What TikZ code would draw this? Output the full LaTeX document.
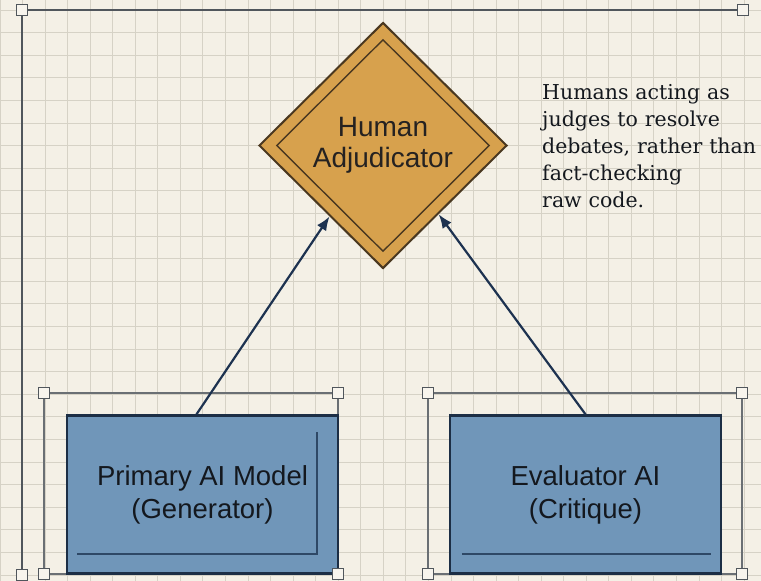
\documentclass[tikz,border=0pt]{standalone}
\usepackage{fontspec}
\setmainfont{DejaVu Serif}
\setsansfont{Liberation Sans}
\usetikzlibrary{shapes.geometric,arrows.meta,calc}

\definecolor{paper}{HTML}{F4F0E6}
\definecolor{gridc}{HTML}{D6D2C6}
\definecolor{framec}{HTML}{50565C}
\definecolor{gold}{HTML}{D7A14D}
\definecolor{goldedge}{HTML}{4A3820}
\definecolor{steel}{HTML}{7096B9}
\definecolor{steeledge}{HTML}{1C2E45}
\definecolor{steelline}{HTML}{2E4866}
\definecolor{navy}{HTML}{1D3250}
\definecolor{ink}{HTML}{14181E}

\tikzset{
  gridline/.style={draw=gridc, line width=0.9pt},
  frameline/.style={draw=framec, line width=1.8pt},
  subframe/.style={draw=framec!85, line width=1.4pt},
  handle/.style={draw=framec, fill=paper!70!white, line width=1.3pt,
    minimum size=10.5pt, inner sep=0pt, rectangle},
  agentbox/.style={rectangle, draw=steeledge, fill=steel, line width=2.4pt,
    minimum width=271pt, minimum height=158pt, align=center, text=ink,
    font=\sffamily\fontsize{27.5}{33}\selectfont},
  accent/.style={draw=steelline, line width=2pt},
  judge/.style={diamond, aspect=1, draw=goldedge, fill=gold, line width=2pt,
    minimum width=248pt, minimum height=246pt, inner sep=0pt, align=center,
    text=ink!90!brown, font=\sffamily\fontsize{28}{31}\selectfont},
  judgeinner/.style={diamond, aspect=1, draw=goldedge, line width=1.4pt,
    minimum width=213pt, minimum height=212pt, inner sep=0pt},
  arr/.style={draw=navy, line width=2.2pt, -{Latex[length=14pt,width=11pt]}},
  note/.style={anchor=north west, align=left, text=ink, inner sep=0pt,
    font=\fontsize{20.5}{27}\selectfont, text width=218pt},
}

\begin{document}
\begin{tikzpicture}[x=1pt,y=-1pt]
  % paper and grid
  \fill[paper] (0,0) rectangle (761,581);
  \useasboundingbox (0,0) rectangle (761,581);
  \foreach \k in {-1,...,33}
    \draw[gridline] ({22.5+22.55*\k},0) -- ({22.5+22.55*\k},581);
  \foreach \k in {0,...,25}
    \draw[gridline] (0,{10+22.6*\k}) -- (761,{10+22.6*\k});

  % outer selection frame (left and top sides only)
  \coordinate (fTL) at (22,10);
  \coordinate (fTR) at (743,10);
  \coordinate (fBL) at (22,575);
  \draw[frameline] (fBL) -- (fTL) -- (fTR);

  % selection frames around the two agents
  \draw[subframe] (44,393) rectangle (338,574);
  \draw[subframe] (428,393) rectangle (742,574);

  % agent boxes
  \node[agentbox] (gen) at (202.5,494.5) {Primary AI Model\\(Generator)};
  \node[agentbox] (crit) at (585.5,494.5) {Evaluator AI\\(Critique)};

  % inner accent lines in the boxes
  \draw[accent] ($(gen.north east)+(-22,18)$) -- ($(gen.south east)+(-22,-21)$)
    -- ($(gen.south west)+(11,-21)$);
  \draw[accent] ($(crit.south west)+(13,-21)$) -- ($(crit.south east)+(-11,-21)$);

  % adjudicator diamond
  \node[judge] (hj) at (383,145.5) {Human\\Adjudicator};
  \node[judgeinner] (hjin) at (hj.center) {};

  % connectors
  \draw[arr] ([xshift=-6pt]gen.north) -- (hj.233);
  \draw[arr] (crit.north) -- (hj.309);

  % handles
  \foreach \n/\p in {a/{(22,10)},b/{(743,10)},c/{(22,575)},
      d/{(44,393)},e/{(338,393)},f/{(44,574)},g/{(338,574)},
      h/{(428,393)},i/{(742,393)},j/{(428,574)},k/{(742,574)}}
    \node[handle] (hd\n) at \p {};

  % side note
  \node[note] (remark) at (542,84) {Humans acting as\\judges to resolve\\debates, rather than\\fact-checking\\raw code.};
\end{tikzpicture}
\end{document}
